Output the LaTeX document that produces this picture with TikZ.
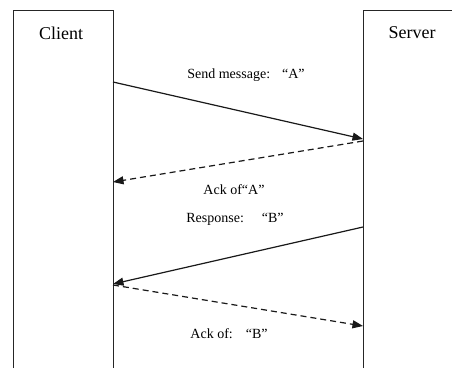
\documentclass[tikz,border=0pt]{standalone}
\usepackage{fontspec}
\setmainfont{Liberation Serif}
\usetikzlibrary{arrows.meta}
\begin{document}
\begin{tikzpicture}[x=1pt,y=-1pt,
  lifeline/.style={draw=black!85,line width=1pt},
  msg/.style={draw=black!90,line width=1.2pt,-{Triangle[length=10.5pt,width=8pt]}},
  ackmsg/.style={msg,dash pattern=on 6pt off 4pt},
  head/.style={font=\fontsize{18}{20}\selectfont,inner sep=0pt},
  lbl/.style={font=\fontsize{14}{16}\selectfont,inner sep=0pt}]
\useasboundingbox (0,0) rectangle (452,368);
\fill[white] (0,0) rectangle (452,368);

% lifelines (open at the bottom)
\draw[lifeline] (13,368) -- (13,10) -- (113,10) -- (113,368);
\draw[lifeline] (363,368) -- (363,10) -- (452,10);
\node[head] (client) at (61,33) {Client};
\node[head] (server) at (412,33) {Server};

% message end points on the lifelines
\coordinate (c1) at (113,82);
\coordinate (s1) at (363,139);
\coordinate (s2) at (363,141);
\coordinate (c2) at (113,182);
\coordinate (s3) at (363,227);
\coordinate (c3) at (113,284);
\coordinate (c4) at (113,285);
\coordinate (s4) at (363,326);

\draw[msg] (c1) -- (s1);
\draw[ackmsg] (s2) -- (c2);
\draw[msg] (s3) -- (c3);
\draw[ackmsg] (c4) -- (s4);

\node[lbl] (l1) at (246,75) {Send message:\hspace{12pt}“A”};
\node[lbl] (l2) at (234,190) {Ack of“A”};
\node[lbl] (l3) at (235,219) {Response:\hspace{18pt}“B”};
\node[lbl] (l4) at (229,334) {Ack of:\hspace{13pt}“B”};
\end{tikzpicture}
\end{document}
